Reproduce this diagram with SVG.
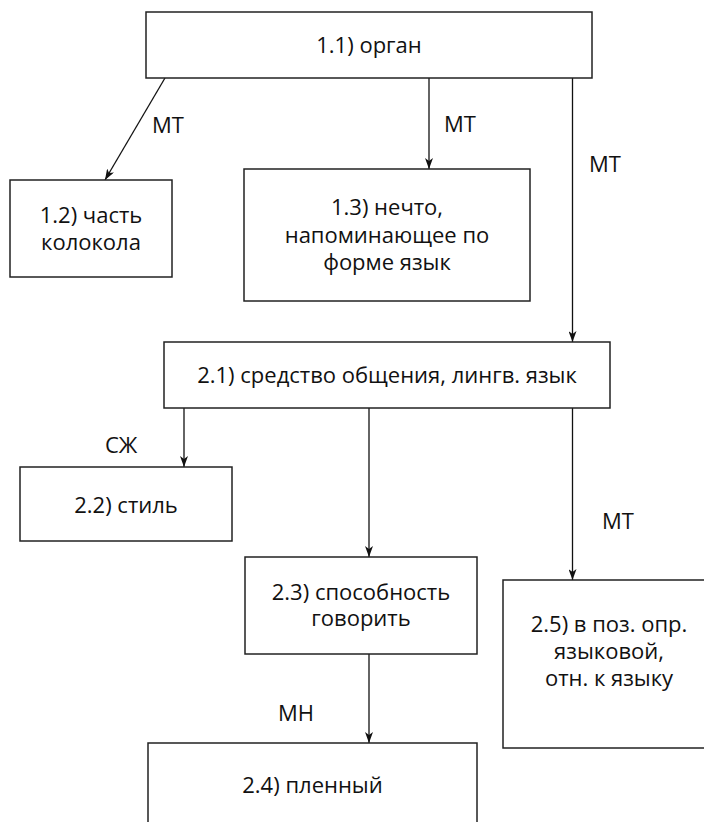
<svg xmlns="http://www.w3.org/2000/svg" width="704" height="822" viewBox="0 0 704 822">
<style>
.box{fill:#fff;stroke:#222;stroke-width:1.5}
.t{font-family:"Open Sans","Noto Sans","DejaVu Sans",sans-serif;font-size:22px;fill:#111;text-anchor:middle}
.l{font-family:"Open Sans","Noto Sans","DejaVu Sans",sans-serif;font-size:22px;fill:#111}
.c{fill:none;stroke:#111;stroke-width:1.3}
</style>
<defs>
<marker id="arr" viewBox="0 0 11 8" refX="11" refY="4" markerWidth="11" markerHeight="8" markerUnits="userSpaceOnUse" orient="auto">
<path d="M0,0 L11,4 L0,8 L3,4 z" fill="#111"/>
</marker>
</defs>
<rect width="704" height="822" fill="#fff"/>
<g id="connectors">
<path class="c" d="M165,78 L105,180" marker-end="url(#arr)"/>
<path class="c" d="M429,78 L429,169" marker-end="url(#arr)"/>
<path class="c" d="M572.5,78 L572.5,342" marker-end="url(#arr)"/>
<path class="c" d="M184,408 L184,467" marker-end="url(#arr)"/>
<path class="c" d="M369,408 L369,557" marker-end="url(#arr)"/>
<path class="c" d="M572.5,408 L572.5,580" marker-end="url(#arr)"/>
<path class="c" d="M369,654 L369,743" marker-end="url(#arr)"/>
<text class="l" x="152" y="133">МТ</text>
<text class="l" x="444" y="132">МТ</text>
<text class="l" x="589" y="172">МТ</text>
<text class="l" x="105" y="453">СЖ</text>
<text class="l" x="602" y="529">МТ</text>
<text class="l" x="278" y="721">МН</text>
</g>
<g id="n11">
<rect class="box" x="146" y="12" width="446" height="66"/>
<text class="t" x="369" y="53">1.1) орган</text>
</g>
<g id="n12">
<rect class="box" x="10" y="180" width="162" height="97"/>
<text class="t" x="91" y="223">1.2) часть</text>
<text class="t" x="91" y="250">колокола</text>
</g>
<g id="n13">
<rect class="box" x="244" y="169" width="286" height="132"/>
<text class="t" x="387" y="215">1.3) нечто,</text>
<text class="t" x="387" y="243">напоминающее по</text>
<text class="t" x="387" y="270">форме язык</text>
</g>
<g id="n21">
<rect class="box" x="164" y="342" width="446" height="66"/>
<text class="t" x="387" y="383">2.1) средство общения, лингв. язык</text>
</g>
<g id="n22">
<rect class="box" x="20" y="467" width="212" height="74"/>
<text class="t" x="126" y="512.5">2.2) стиль</text>
</g>
<g id="n23">
<rect class="box" x="245" y="557" width="232" height="97"/>
<text class="t" x="361" y="600">2.3) способность</text>
<text class="t" x="361" y="626">говорить</text>
</g>
<g id="n24">
<rect class="box" x="148" y="743" width="329" height="100"/>
<text class="t" x="312.5" y="793">2.4) пленный</text>
</g>
<g id="n25">
<rect class="box" x="503" y="580" width="212" height="168"/>
<text class="t" x="609" y="632">2.5) в поз. опр.</text>
<text class="t" x="609" y="659">языковой,</text>
<text class="t" x="609" y="686">отн. к языку</text>
</g>
</svg>
